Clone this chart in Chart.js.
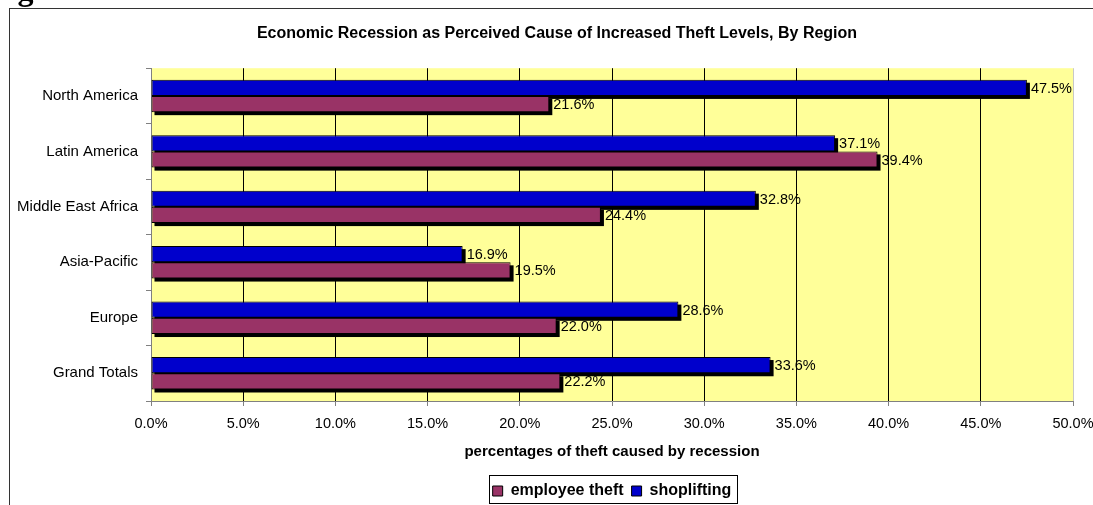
<!DOCTYPE html>
<html>
<head>
<meta charset="utf-8">
<script src="https://cdn.jsdelivr.net/npm/chart.js@4/dist/chart.umd.min.js"></script>
<style>
  html, body { margin: 0; padding: 0; background: #fff; }
  #wrap { width: 1093px; height: 505px; }
</style>
</head>
<body>
<div id="wrap"><canvas id="theftChart" width="1093" height="505"></canvas></div>
<script>
// data
const categories = ['North America', 'Latin America', 'Middle East Africa', 'Asia-Pacific', 'Europe', 'Grand Totals'];
const seriesNames = ['shoplifting', 'employee theft'];
const shoplifting = [47.5, 37.1, 32.8, 16.9, 28.6, 33.6];
const employeeTheft = [21.6, 39.4, 24.4, 19.5, 22.0, 22.2];
const xTickValues = [0, 5, 10, 15, 20, 25, 30, 35, 40, 45, 50];

const FONT = '"Liberation Sans", Arial, sans-serif';

// yellow plot area + frame
const backdrop = {
    id: 'backdrop',
    beforeDraw(chart) {
        const {ctx, chartArea: a} = chart;
        ctx.save();
        ctx.fillStyle = '#FFFF99';
        ctx.fillRect(a.left, a.top, a.right - a.left, a.bottom - a.top);
        ctx.restore();
    },
    afterDraw(chart) {
        const ctx = chart.ctx;
        ctx.save();
        // outer chart border (runs off the cropped picture)
        ctx.strokeStyle = '#333';
        ctx.lineWidth = 1;
        ctx.strokeRect(9.5, 8.5, 1200, 600);
        // cropped caption above the chart
        ctx.fillStyle = '#000';
        ctx.font = 'bold 32px "Liberation Serif", serif';
        ctx.textBaseline = 'alphabetic';
        ctx.fillText('Figure', -11, 0);
        // legend frame
        const lg = chart.legend;
        if (lg && lg.legendHitBoxes && lg.legendHitBoxes.length) {
            const hb = lg.legendHitBoxes;
            const last = hb[hb.length - 1];
            const l = Math.round(hb[0].left - 4) + 0.5;
            const r = Math.round(last.left + last.width + 6) + 0.5;
            const t = Math.round(hb[0].top + hb[0].height / 2 - 16) + 0.5;
            ctx.strokeStyle = '#000';
            ctx.strokeRect(l, t, r - l, 28);
        }
        ctx.restore();
    }
};

// black drop shadows under the bars, drawn before the bars themselves
const barShadows = {
    id: 'barShadows',
    beforeDatasetsDraw(chart) {
        const ctx = chart.ctx;
        ctx.save();
        ctx.fillStyle = '#000';
        chart.data.datasets.forEach((ds, i) => {
            chart.getDatasetMeta(i).data.forEach(el => {
                const p = el.getProps(['x', 'y', 'base', 'height'], true);
                ctx.fillRect(p.base + 3, p.y - p.height / 2 + 3, p.x - p.base, p.height);
            });
        });
        ctx.restore();
    }
};

// value labels at the end of each bar
const valueLabels = {
    id: 'valueLabels',
    afterDatasetsDraw(chart) {
        const ctx = chart.ctx;
        ctx.save();
        ctx.font = '14.5px ' + FONT;
        ctx.fillStyle = '#000';
        ctx.textAlign = 'left';
        ctx.textBaseline = 'middle';
        chart.data.datasets.forEach((ds, i) => {
            chart.getDatasetMeta(i).data.forEach((el, j) => {
                ctx.fillText(ds.data[j].toFixed(1) + '%', el.x + 4, el.y + 1);
            });
        });
        ctx.restore();
    }
};

const chart = new Chart(document.getElementById('theftChart'), {
    type: 'bar',
    data: {
        labels: categories,
        datasets: [{
            label: seriesNames[0],
            data: shoplifting,
            backgroundColor: '#0000CC',
            borderColor: '#000',
            borderWidth: 1,
            borderSkipped: false,
            categoryPercentage: 0.585,
            barPercentage: 1
        }, {
            label: seriesNames[1],
            data: employeeTheft,
            backgroundColor: '#993366',
            borderColor: '#000',
            borderWidth: 1,
            borderSkipped: false,
            categoryPercentage: 0.585,
            barPercentage: 1
        }]
    },
    options: {
        indexAxis: 'y',
        responsive: false,
        animation: false,
        // the chart frame runs past the right edge, so the title centre sits right of the canvas centre
        layout: { padding: { top: 0, left: 0, right: -21, bottom: -4 } },
        scales: {
            x: {
                min: 0,
                max: 50,
                afterBuildTicks(scale) {
                    scale.ticks = xTickValues.map(v => ({ value: v }));
                },
                afterFit(scale) {
                    scale.height = 74;
                    scale.paddingRight = 20;
                },
                grid: {
                    color: c => {
                        if (c.tick && c.tick.value === 0) return 'rgba(0,0,0,0)';
                        if (c.tick && c.tick.value === 50) return '#C8C8C8';
                        return '#000';
                    },
                    tickColor: '#808080',
                    tickLength: 5,
                    lineWidth: 1
                },
                border: { color: '#808080', width: 1 },
                ticks: {
                    color: '#000',
                    padding: 9,
                    maxRotation: 0,
                    autoSkip: false,
                    font: { family: FONT, size: 14.5 },
                    callback: v => v.toFixed(1) + '%'
                },
                title: {
                    display: true,
                    text: 'percentages of theft caused by recession',
                    color: '#000',
                    font: { family: FONT, size: 15, weight: 'bold' },
                    padding: { top: 0, bottom: 14.5 }
                }
            },
            y: {
                afterFit(scale) {
                    scale.width = 151;
                },
                grid: {
                    drawOnChartArea: false,
                    tickColor: '#808080',
                    tickLength: 5
                },
                border: { color: '#808080', width: 1 },
                ticks: {
                    color: '#000',
                    padding: 8,
                    font: { family: FONT, size: 15 }
                }
            }
        },
        plugins: {
            title: {
                display: true,
                text: 'Economic Recession as Perceived Cause of Increased Theft Levels, By Region',
                color: '#000',
                font: { family: FONT, size: 16, weight: 'bold' },
                padding: { top: 24, bottom: 25 }
            },
            legend: {
                position: 'bottom',
                fullSize: false,
                reverse: true,
                labels: {
                    color: '#000',
                    boxWidth: 10,
                    boxHeight: 10,
                    padding: 8,
                    font: { family: FONT, size: 16, weight: 'bold' }
                }
            },
            tooltip: { enabled: false }
        }
    },
    plugins: [backdrop, barShadows, valueLabels]
});
</script>
</body>
</html>
